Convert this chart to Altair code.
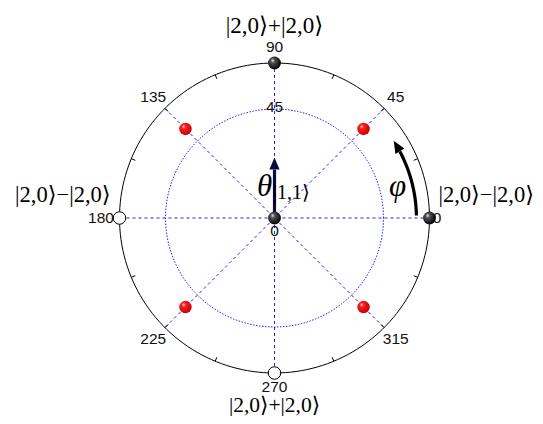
import altair as alt
import pandas as pd

# ---------------- data ----------------
R_OUT = 64          # outer circle radial value
R_IN = 45           # inner (dotted) circle radial value
spoke_angles = [0, 45, 90, 135]
tick_angles = [0, 22.5, 45, 67.5, 90, 112.5, 135, 157.5, 180, 202.5, 225, 247.5, 270, 292.5, 315, 337.5]
angle_labels = ["45", "90", "135", "225", "315"]
angle_label_pos = [45, 90, 135, 225, 315]
black_angles = [90, 0, 0]
black_r = [64, 64, 0]
white_angles = [180, 270]
white_r = [64, 64]
red_angles = [45, 135, 225, 315]
red_r = [52, 52, 52, 52]
ket_plus = "|2,0⟩+|2,0⟩"
ket_minus = "|2,0⟩−|2,0⟩"

# ---------------- layout ----------------
PX = 155 / 64
W, H = 527, 408
CX, CY = 266.5, 210
xs = alt.Scale(domain=[-CX / PX, (W - CX) / PX], nice=False, zero=False)
ys = alt.Scale(domain=[-(H - CY) / PX, CY / PX], nice=False, zero=False)
X = alt.X("x:Q", scale=xs, axis=None)
Y = alt.Y("y:Q", scale=ys, axis=None)
HEAD = "M0,-1L-0.85,1L0.85,1Z"


def polar(ch, r="datum.r", a="datum.a", xn="x", yn="y"):
    return ch.transform_calculate(**{xn: f"({r})*cos(({a})*PI/180)",
                                     yn: f"({r})*sin(({a})*PI/180)"})


def df(**kw):
    return pd.DataFrame(kw)


# circles
outer = polar(alt.Chart(alt.sequence(0, 362, 2, as_="a")).mark_line(color="black", strokeWidth=1),
              r=str(R_OUT)).encode(x=X, y=Y, order="a:Q")
inner = polar(alt.Chart(alt.sequence(0, 362, 2, as_="a")).mark_line(color="#2020ff", strokeWidth=1, strokeDash=[1.5, 1.5]),
              r=str(R_IN)).encode(x=X, y=Y, order="a:Q")

spokes = alt.Chart(df(a=spoke_angles)).transform_calculate(
    x=f"{R_OUT}*cos(datum.a*PI/180)", y=f"{R_OUT}*sin(datum.a*PI/180)",
    x2=f"-{R_OUT}*cos(datum.a*PI/180)", y2=f"-{R_OUT}*sin(datum.a*PI/180)"
).mark_rule(color="#2020ff", strokeWidth=1, strokeDash=[3, 3]).encode(x=X, y=Y, x2="x2:Q", y2="y2:Q")

ticks = alt.Chart(df(a=tick_angles)).transform_calculate(
    x=f"{R_OUT}*cos(datum.a*PI/180)", y=f"{R_OUT}*sin(datum.a*PI/180)",
    x2=f"{R_OUT - 1.8}*cos(datum.a*PI/180)", y2=f"{R_OUT - 1.8}*sin(datum.a*PI/180)"
).mark_rule(color="black", strokeWidth=1).encode(x=X, y=Y, x2="x2:Q", y2="y2:Q")

# theta arrow
NAVY = "#0b0b3a"
theta_shaft = alt.Chart(df(a=[90])).transform_calculate(
    x="0", y="0", x2="0", y2="20"
).mark_rule(color=NAVY, strokeWidth=3.2).encode(x=X, y=Y, x2="x2:Q", y2="y2:Q")
theta_head = polar(alt.Chart(df(a=[90], r=[22.5]))).mark_point(
    shape=HEAD, size=144, filled=True, fill=NAVY, opacity=1, strokeWidth=0
).encode(x=X, y=Y)

# phi arrow
phi_arc = polar(alt.Chart(alt.sequence(1, 29, 1, as_="a")).mark_line(color="black", strokeWidth=3.2),
                r="58.6").encode(x=X, y=Y, order="a:Q")
phi_head = polar(alt.Chart(df(a=[30.5], r=[58.6]))).mark_point(
    shape=HEAD, size=150, filled=True, fill="black", opacity=1, strokeWidth=0, angle=329.5
).encode(x=X, y=Y)


def grad(c_mid, c_dark):
    return {"gradient": "radial", "x1": 0.35, "y1": 0.3, "r1": 0.0,
            "x2": 0.4, "y2": 0.4, "r2": 0.62,
            "stops": [{"offset": 0, "color": "#ffffff"},
                      {"offset": 0.25, "color": c_mid},
                      {"offset": 1, "color": c_dark}]}


black_balls = polar(alt.Chart(df(a=black_angles, r=black_r))).mark_point(
    shape="circle", size=165, filled=True, fill=grad("#555555", "#000000"), opacity=1, strokeWidth=0
).encode(x=X, y=Y)
red_balls = polar(alt.Chart(df(a=red_angles, r=red_r))).mark_point(
    shape="circle", size=156, filled=True, fill=grad("#ff2020", "#c00000"), opacity=1, strokeWidth=0
).encode(x=X, y=Y)
white_balls = polar(alt.Chart(df(a=white_angles, r=white_r))).mark_point(
    shape="circle", size=156, filled=True, fill="white", stroke="black", strokeWidth=1, opacity=1
).encode(x=X, y=Y)

SANS = "Liberation Sans, Arial"
SERIF = "Liberation Serif, Times New Roman, DejaVu Serif"

ang_txt = polar(alt.Chart(df(a=angle_label_pos, t=angle_labels)), r="70.8").mark_text(
    font=SANS, fontSize=15.5, color="#111111", baseline="middle", align="center"
).encode(x=X, y=Y, text="t:N")
ang270 = polar(alt.Chart(df(a=[270], t=["270"])), r="69.8").mark_text(
    font=SANS, fontSize=15.5, color="#111111", baseline="middle", align="center"
).encode(x=X, y=Y, text="t:N")
ang0 = polar(alt.Chart(df(a=[0], t=["0"])), r="65.3").mark_text(
    font=SANS, fontSize=15.5, color="#111111", baseline="middle", align="left"
).encode(x=X, y=Y, text="t:N")
ang180 = polar(alt.Chart(df(a=[180], t=["180"])), r="66.3").mark_text(
    font=SANS, fontSize=15.5, color="#111111", baseline="middle", align="right"
).encode(x=X, y=Y, text="t:N")

rad45 = polar(alt.Chart(df(a=[90], r=[R_IN], t=["45"]))).mark_text(
    font=SANS, fontSize=15.5, color="#111111", baseline="middle", align="center", dy=-2
).encode(x=X, y=Y, text="t:N")
rad0 = polar(alt.Chart(df(a=[90], r=[0], t=["0"]))).mark_text(
    font=SANS, fontSize=15.5, color="#111111", baseline="middle", align="center", dy=13
).encode(x=X, y=Y, text="t:N")

ket_top = polar(alt.Chart(df(a=[90], t=[ket_plus])), r="79.3").mark_text(
    font=SERIF, fontSize=23, color="black", baseline="middle", align="center"
).encode(x=X, y=Y, text="t:N")
ket_bot = polar(alt.Chart(df(a=[270], t=[ket_plus])), r="77.8").mark_text(
    font=SERIF, fontSize=21.5, color="black", baseline="middle", align="center"
).encode(x=X, y=Y, text="t:N")
ket_lr = polar(alt.Chart(df(a=[0, 180], t=[ket_minus, ket_minus])), r="87.4").mark_text(
    font=SERIF, fontSize=22.5, color="black", baseline="middle", align="center", dy=-23
).encode(x=X, y=Y, text="t:N")

theta_lbl = alt.Chart(df(t=["θ"])).transform_calculate(x="-4.1", y="12.8").mark_text(
    font=SERIF, fontSize=31, fontStyle="italic", color="black", baseline="middle", align="center"
).encode(x=X, y=Y, text="t:N")
ket11 = alt.Chart(df(t=["|1,1⟩"])).transform_calculate(x="7", y="10.5").mark_text(
    font=SERIF, fontSize=20, color="black", baseline="middle", align="center"
).encode(x=X, y=Y, text="t:N")
phi_lbl = alt.Chart(df(t=["φ"])).transform_calculate(x="50.8", y="12.8").mark_text(
    font=SERIF, fontSize=31, fontStyle="italic", color="black", baseline="middle", align="center"
).encode(x=X, y=Y, text="t:N")

chart = alt.layer(
    outer, inner, spokes, ticks, theta_shaft, theta_head, phi_arc, phi_head,
    black_balls, red_balls, white_balls,
    ang_txt, ang270, ang0, ang180, rad45, rad0, ket_top, ket_bot, ket_lr, theta_lbl, ket11, phi_lbl
).properties(
    width=W, height=H, padding=0, autosize=alt.AutoSizeParams(type="none"), background="white"
).configure_view(stroke=None)

chart.save("out.html", embed_options={"renderer": "svg", "actions": False})
